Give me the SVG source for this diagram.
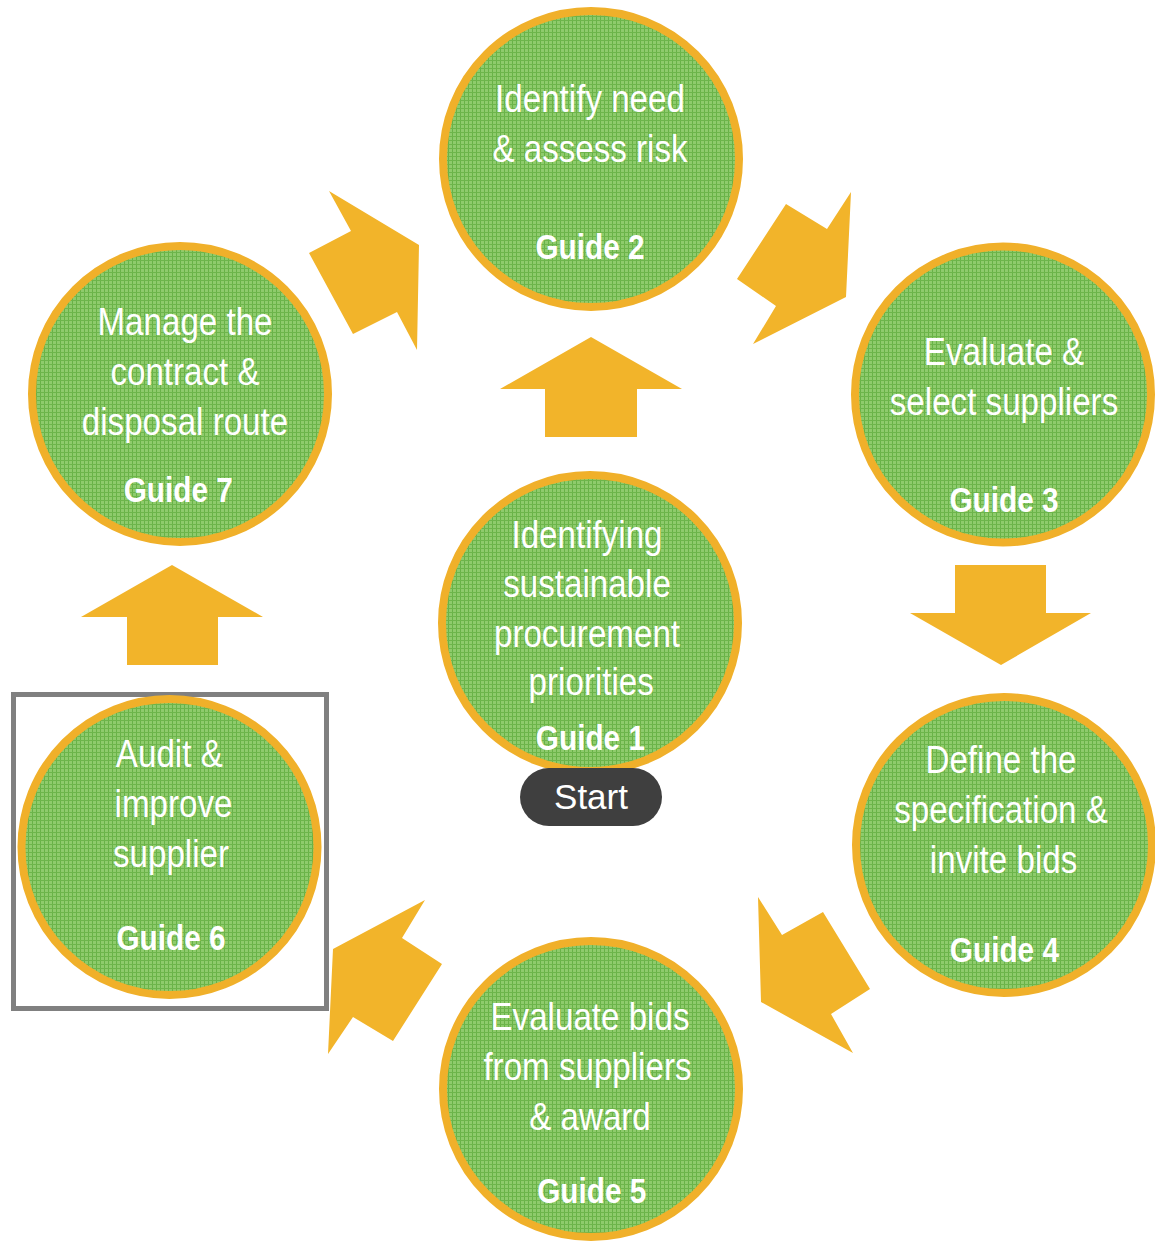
<svg xmlns="http://www.w3.org/2000/svg" width="1155" height="1241" viewBox="0 0 1155 1241">
<defs>
<pattern id="grid" width="4" height="4" patternUnits="userSpaceOnUse">
<rect width="4" height="4" fill="#8ecb6c"/>
<rect width="1" height="4" fill="#68b247"/>
<rect width="4" height="1" fill="#6db54b"/>
</pattern>
<style>
.node circle{fill:url(#grid);stroke:#f0b02a;stroke-width:8}
.t{font-family:"Liberation Sans",Arial,sans-serif;fill:#ffffff;text-anchor:middle}
.r{font-size:39px}
.b{font-size:35px;font-weight:bold}
.arrow{fill:#f2b42a}
</style>
</defs>
<rect width="1155" height="1241" fill="#ffffff"/>

<g id="connectors">
<polygon class="arrow" points="500,389 591,337 682,389 637,389 637,437 545,437 545,389"/>
<polygon class="arrow" points="81,617 172,565 263,617 218,617 218,665 127,665 127,617"/>
<polygon class="arrow" points="955,565 1046,565 1046,613 1091,613 1001,665 910,613 955,613"/>
<polygon class="arrow" points="329,191 419,245 417,350 397,312 353,334 309,253 351,231"/>
<polygon class="arrow" points="786,204 827,229 851,192 846,297 753,344 776,306 737,279"/>
<polygon class="arrow" points="758,897 782,935 823,912 870,989 831,1014 853,1053 761,1002"/>
<polygon class="arrow" points="425,900 402,938 442,964 393,1041 353,1017 328,1054 333,949"/>
</g>

<g id="highlight">
<rect x="13.5" y="694.5" width="313" height="314" fill="none" stroke="#808080" stroke-width="5"/>
</g>

<g id="guide2" class="node">
<circle cx="591" cy="159" r="148"/>
<g transform="translate(590,0) scale(0.85,1)">
<text class="t r" x="0" y="112">Identify need</text>
<text class="t r" x="0" y="162">&amp; assess risk</text>
<text class="t b" x="0" y="259">Guide 2</text>
</g>
</g>

<g id="guide7" class="node">
<circle cx="180" cy="394" r="148"/>
<g transform="translate(185,0) scale(0.85,1)">
<text class="t r" x="0" y="335">Manage the</text>
<text class="t r" x="0" y="385">contract &amp;</text>
<text class="t r" x="0" y="435">disposal route</text>
<text class="t b" x="-8" y="502">Guide 7</text>
</g>
</g>

<g id="guide3" class="node">
<circle cx="1003" cy="394.5" r="148"/>
<g transform="translate(1004,0) scale(0.85,1)">
<text class="t r" x="0" y="365">Evaluate &amp;</text>
<text class="t r" x="0" y="415">select suppliers</text>
<text class="t b" x="0" y="512">Guide 3</text>
</g>
</g>

<g id="guide1" class="node">
<circle cx="590" cy="623" r="148"/>
<g transform="translate(587,0) scale(0.85,1)">
<text class="t r" x="0" y="548">Identifying</text>
<text class="t r" x="0" y="597">sustainable</text>
<text class="t r" x="0" y="647">procurement</text>
<text class="t r" x="5" y="695">priorities</text>
<text class="t b" x="4" y="750">Guide 1</text>
</g>
</g>

<g id="start">
<rect x="520" y="768" width="142" height="58" rx="29" fill="#3f3f3f"/>
<text class="t" x="591" y="809" font-size="35">Start</text>
</g>

<g id="guide4" class="node">
<circle cx="1004" cy="845" r="148"/>
<g transform="translate(1001,0) scale(0.85,1)">
<text class="t r" x="0" y="773">Define the</text>
<text class="t r" x="0" y="823">specification &amp;</text>
<text class="t r" x="3" y="873">invite bids</text>
<text class="t b" x="4" y="962">Guide 4</text>
</g>
</g>

<g id="guide5" class="node">
<circle cx="591" cy="1089" r="148"/>
<g transform="translate(590,0) scale(0.85,1)">
<text class="t r" x="0" y="1030">Evaluate bids</text>
<text class="t r" x="-3" y="1080">from suppliers</text>
<text class="t r" x="0" y="1130">&amp; award</text>
<text class="t b" x="2" y="1203">Guide 5</text>
</g>
</g>

<g id="guide6" class="node">
<circle cx="169.5" cy="847" r="148"/>
<g transform="translate(171,0) scale(0.85,1)">
<text class="t r" x="-2" y="767">Audit &amp;</text>
<text class="t r" x="3" y="817">improve</text>
<text class="t r" x="0" y="867">supplier</text>
<text class="t b" x="0" y="950">Guide 6</text>
</g>
</g>
</svg>
